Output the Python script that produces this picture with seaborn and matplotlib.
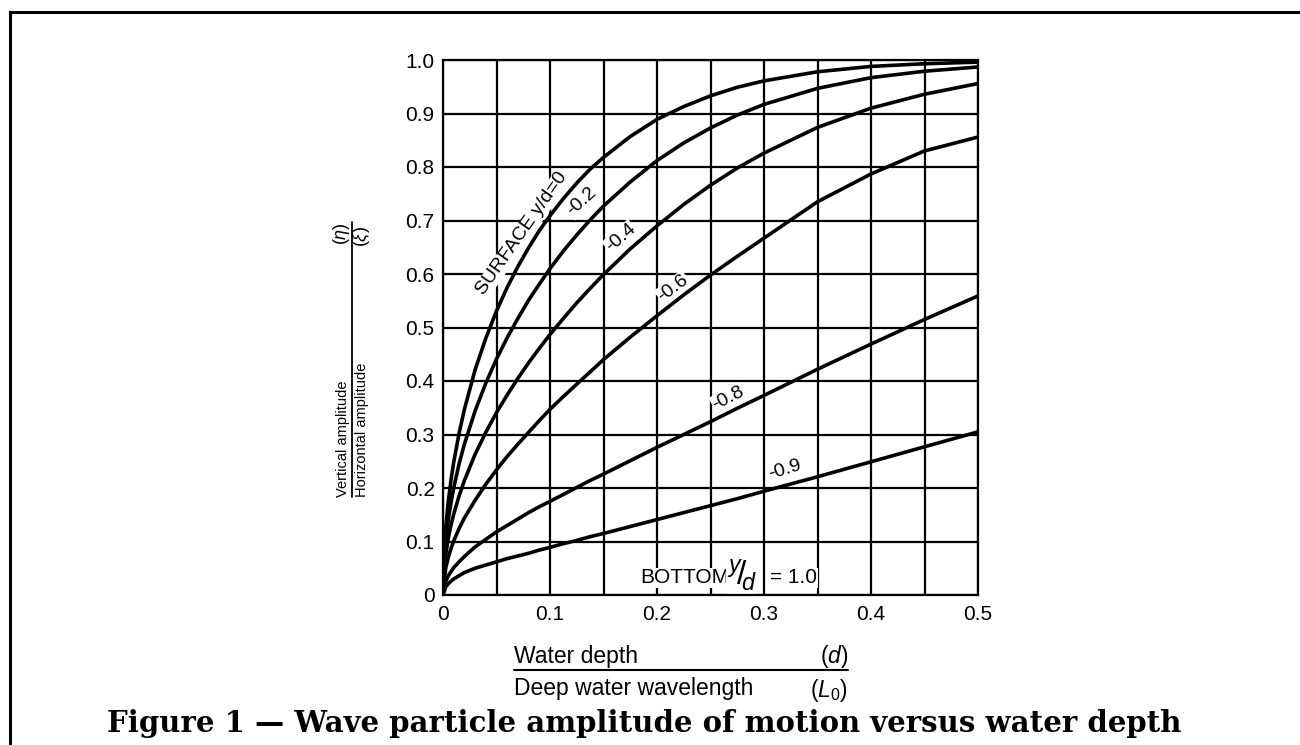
import numpy as np
import pandas as pd
import matplotlib
matplotlib.use("Agg")
import matplotlib.pyplot as plt
from matplotlib.lines import Line2D
import seaborn as sns

# ---------------- data ----------------
d_L0 = [0, 0.0025, 0.005, 0.0075, 0.01, 0.015, 0.02, 0.03, 0.04, 0.05,
        0.06, 0.07, 0.08, 0.09, 0.10, 0.1125, 0.125, 0.1375, 0.15, 0.175,
        0.2, 0.225, 0.25, 0.275, 0.3, 0.35, 0.4, 0.45, 0.5]

surface = [0, 0.125, 0.176, 0.215, 0.248, 0.302, 0.347, 0.421, 0.480, 0.531,
           0.575, 0.614, 0.649, 0.681, 0.709, 0.741, 0.770, 0.796, 0.818, 0.857,
           0.889, 0.913, 0.933, 0.949, 0.961, 0.978, 0.988, 0.993, 0.996]
depth_02 = [0, 0.100, 0.142, 0.173, 0.200, 0.245, 0.282, 0.344, 0.396, 0.441,
            0.481, 0.517, 0.551, 0.581, 0.610, 0.643, 0.673, 0.701, 0.727, 0.772,
            0.812, 0.845, 0.873, 0.897, 0.917, 0.947, 0.967, 0.979, 0.987]
depth_04 = [0, 0.075, 0.107, 0.131, 0.151, 0.185, 0.214, 0.263, 0.304, 0.341,
            0.374, 0.405, 0.434, 0.461, 0.487, 0.517, 0.546, 0.573, 0.599, 0.647,
            0.690, 0.730, 0.766, 0.798, 0.826, 0.874, 0.910, 0.936, 0.956]
depth_06 = [0, 0.050, 0.071, 0.087, 0.101, 0.124, 0.144, 0.177, 0.207, 0.234,
            0.259, 0.282, 0.304, 0.326, 0.347, 0.371, 0.394, 0.417, 0.440, 0.482,
            0.522, 0.561, 0.598, 0.633, 0.667, 0.735, 0.787, 0.830, 0.856]
depth_08 = [0, 0.025, 0.036, 0.044, 0.051, 0.062, 0.072, 0.090, 0.104, 0.118,
            0.130, 0.142, 0.154, 0.165, 0.175, 0.188, 0.201, 0.214, 0.226, 0.251,
            0.276, 0.300, 0.324, 0.349, 0.373, 0.422, 0.469, 0.515, 0.559]
depth_09 = [0, 0.015, 0.021, 0.026, 0.030, 0.036, 0.042, 0.050, 0.056, 0.062,
            0.068, 0.073, 0.078, 0.084, 0.089, 0.096, 0.102, 0.109, 0.115, 0.128,
            0.141, 0.154, 0.167, 0.180, 0.194, 0.221, 0.249, 0.277, 0.305]

levels = ["0", "-0.2", "-0.4", "-0.6", "-0.8", "-0.9"]
series = [surface, depth_02, depth_04, depth_06, depth_08, depth_09]

x_ticks = [0, 0.05, 0.1, 0.15, 0.2, 0.25, 0.3, 0.35, 0.4, 0.45, 0.5]
x_tick_labels = ["0", "", "0.1", "", "0.2", "", "0.3", "", "0.4", "", "0.5"]
y_ticks = [0, 0.1, 0.2, 0.3, 0.4, 0.5, 0.6, 0.7, 0.8, 0.9, 1.0]
y_tick_labels = ["0", "0.1", "0.2", "0.3", "0.4", "0.5", "0.6", "0.7", "0.8", "0.9", "1.0"]

# curve labels: text, x, y, rotation
curve_labels = [
    ("SURFACE y/d=0", 0.074, 0.675, 55),
    ("-0.2", 0.130, 0.735, 42),
    ("-0.4", 0.166, 0.668, 41),
    ("-0.6", 0.215, 0.574, 37),
    ("-0.8", 0.2667, 0.368, 27),
    ("-0.9", 0.3196, 0.234, 17),
]

caption = "Figure 1 \u2014 Wave particle amplitude of motion versus water depth"

# ---------------- style ----------------
sns.set_theme(style="white")
plt.rcParams["font.family"] = ["Liberation Sans", "DejaVu Sans"]
plt.rcParams["mathtext.fontset"] = "custom"
plt.rcParams["mathtext.rm"] = "Liberation Sans"
plt.rcParams["mathtext.it"] = "Liberation Sans:italic"
plt.rcParams["text.color"] = "black"
plt.rcParams["axes.labelcolor"] = "black"
plt.rcParams["xtick.color"] = "black"
plt.rcParams["ytick.color"] = "black"

W, H = 1300, 745
fig = plt.figure(figsize=(W / 100, H / 100), dpi=100)
fig.patch.set_facecolor("white")


def px(x, y):
    return x / W, 1 - y / H


ax = fig.add_axes([443 / W, 1 - 595 / H, 535 / W, 535 / H])

df = pd.DataFrame({
    "d_L0": d_L0 * len(series),
    "ratio": [v for s in series for v in s],
    "level": [lv for lv, s in zip(levels, series) for _ in s],
})
sns.lineplot(data=df, x="d_L0", y="ratio", units="level", estimator=None,
             color="black", lw=2.6, ax=ax, sort=False, legend=False, zorder=3)

ax.set_xlim(0, 0.5)
ax.set_ylim(0, 1.0)
ax.set_xticks(x_ticks)
ax.set_xticklabels(x_tick_labels)
ax.set_yticks(y_ticks)
ax.set_yticklabels(y_tick_labels)
ax.tick_params(length=0, labelsize=15, colors="black")
ax.tick_params(axis="x", pad=7)
ax.tick_params(axis="y", pad=6)
ax.grid(True, color="black", lw=1.6)
ax.set_axisbelow(True)
for sp in ax.spines.values():
    sp.set_color("black")
    sp.set_linewidth(1.6)
ax.set_xlabel("")
ax.set_ylabel("")
ax.set_facecolor("white")

bb = dict(facecolor="white", edgecolor="none", pad=0.5)
for txt, x, y, rot in curve_labels:
    ax.text(x, y, txt, rotation=rot, rotation_mode="anchor", ha="center",
            va="center", fontsize=14, color="black", bbox=bb, zorder=1.8)

# bottom label
ax.text(0.184, 0.032, "BOTTOM", fontsize=15, ha="left", va="center",
        bbox=bb, zorder=1.8)
ax.text(0.279, 0.036, r"${}^{y}\!/\!_{d}$", fontsize=24, ha="center", va="center",
        bbox=bb, zorder=1.8)
ax.text(0.3056, 0.032, "= 1.0", fontsize=15, ha="left", va="center",
        bbox=bb, zorder=1.8)

# x label (fraction)
fig.text(*px(514, 657), "Water depth", fontsize=16.5, ha="left", va="center")
fig.text(*px(848, 657), r"($d$)", fontsize=16.5, ha="right", va="center")
fig.text(*px(514, 688), "Deep water wavelength", fontsize=16.5, ha="left", va="center")
fig.text(*px(848, 690), r"($L_{\rm 0}$)", fontsize=16.5, ha="right", va="center")
fig.add_artist(Line2D([514 / W, 848 / W], [1 - 670 / H, 1 - 670 / H],
                      transform=fig.transFigure, color="black", lw=1.5))

# y label (fraction, rotated)
fig.text(*px(343, 497), "Vertical amplitude", fontsize=10.5, rotation=90,
         ha="center", va="bottom")
fig.text(*px(362, 497), "Horizontal amplitude", fontsize=10.5, rotation=90,
         ha="center", va="bottom")
fig.text(*px(341, 234), r"($\eta$)", fontsize=13, rotation=90,
         ha="center", va="center")
fig.text(*px(362, 237), r"($\xi$)", fontsize=13, rotation=90,
         ha="center", va="center")
fig.add_artist(Line2D([352 / W, 352 / W], [1 - 222 / H, 1 - 497 / H],
                      transform=fig.transFigure, color="black", lw=1.3))

# caption
fig.text(*px(644.5, 724), caption, fontsize=21, fontweight="bold",
         family=["DejaVu Serif"], ha="center", va="center")

# outer frame (left and top edges)
fig.add_artist(Line2D([9.5 / W, 9.5 / W], [0, 1 - 11.5 / H],
                      transform=fig.transFigure, color="black", lw=2.2,
                      solid_capstyle="projecting"))
fig.add_artist(Line2D([9.5 / W, 1], [1 - 11.5 / H, 1 - 11.5 / H],
                      transform=fig.transFigure, color="black", lw=2.2,
                      solid_capstyle="projecting"))

fig.savefig("out.png", dpi=100, facecolor="white")
